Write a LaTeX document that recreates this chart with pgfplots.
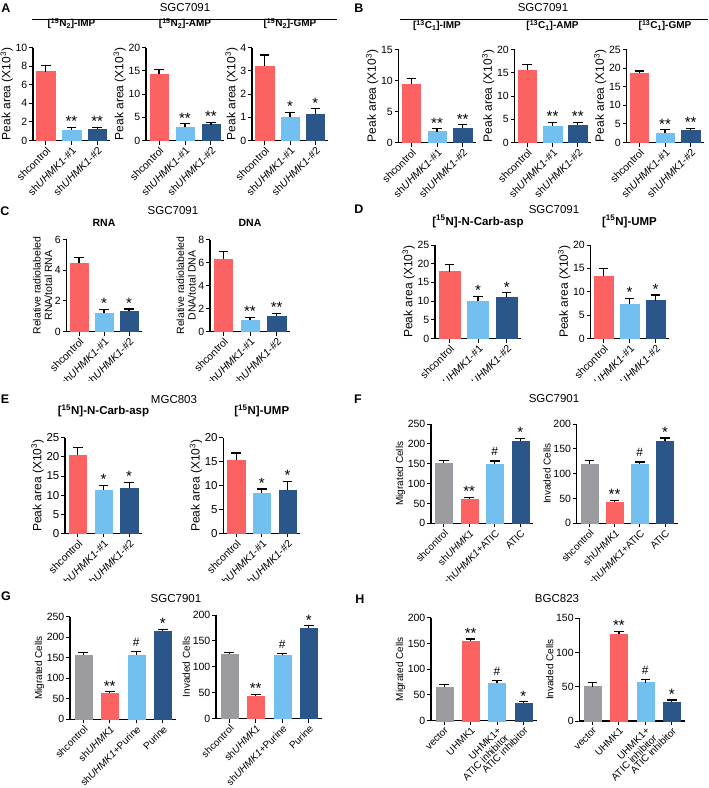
\documentclass[border=0pt]{standalone}
\usepackage{fontspec}
\setmainfont{Liberation Sans}
\usepackage{pgfplots}
\pgfplotsset{compat=1.18}
\definecolor{cred}{RGB}{252,98,98}
\definecolor{clb}{RGB}{115,192,240}
\definecolor{cdb}{RGB}{42,86,138}
\definecolor{cgr}{RGB}{155,155,160}
\pgfplotsset{
 prism/.style={scale only axis, axis lines=left, axis line style={-, line width=1.1pt},
   every tick/.style={black, line width=1pt}, major tick length=4pt, tick align=outside,
   ymin=0, clip=false, /pgf/number format/assume math mode=true,
   yticklabel style={font=\fontsize{10.5}{11}\selectfont, inner sep=1.5pt},
   xticklabel style={rotate=45, anchor=north east, inner sep=1pt, font=\fontsize{10.5}{11}\selectfont, align=right},
   ylabel style={font=\fontsize{12}{13}\selectfont, inner sep=1pt, align=center},
   title style={font=\bfseries\fontsize{10}{11}\selectfont},
   height=93pt},
 three/.style={prism, xmin=-0.5, xmax=2.5, xtick={0,1,2}, xticklabels={shcontrol, sh\textit{UHMK1}-\#1, sh\textit{UHMK1}-\#2}, bar width=18.5pt},
 four/.style={prism, xmin=-0.5, xmax=3.5, xtick={0,1,2,3}, bar width=17pt,
   ylabel style={font=\fontsize{10}{11}\selectfont},
   xticklabel style={font=\fontsize{10}{10.5}\selectfont}},
 b/.style={ybar, bar shift=0pt, draw=#1, fill=#1,
   /pgfplots/error bars/y dir=plus, /pgfplots/error bars/y explicit,
   /pgfplots/error bars/error bar style={line width=1.2pt, black},
   /pgfplots/error bars/error mark options={rotate=90, mark size=4.8pt, line width=1.2pt, black}},
 st/.style={draw=none, nodes near coords, point meta=explicit symbolic,
   nodes near coords style={font=\fontsize{15}{15}\selectfont, anchor=south, inner sep=0pt, yshift=0.5pt, black}},
 hs/.style={draw=none, nodes near coords, point meta=explicit symbolic,
   nodes near coords style={font=\fontsize{12}{12}\selectfont, anchor=south, inner sep=0pt, yshift=5pt, black}},
}
\begin{document}
\begin{tikzpicture}
\path[use as bounding box] (0pt,0pt) rectangle (709pt,-788pt);
% ---------- letters and headers
\tikzset{lett/.style={font=\bfseries\fontsize{12.5}{12.5}\selectfont}, hdr/.style={font=\fontsize{11.5}{12}\selectfont}}
\node[lett] at (6pt,-8pt) {A};
\node[lett] at (359pt,-8.5pt) {B};
\node[lett] at (5pt,-211pt) {C};
\node[lett] at (359pt,-209pt) {D};
\node[lett] at (5pt,-399pt) {E};
\node[lett] at (358pt,-399pt) {F};
\node[lett] at (6pt,-596pt) {G};
\node[lett] at (360pt,-599pt) {H};
\node[hdr] at (185pt,-8pt) {SGC7091};
\draw[line width=1pt] (32pt,-19pt) -- (337pt,-19pt);
\node[hdr] at (543pt,-8pt) {SGC7091};
\draw[line width=1pt] (400pt,-19pt) -- (708pt,-19pt);
\node[hdr] at (173pt,-211pt) {SGC7091};
\node[hdr] at (554pt,-210pt) {SGC7091};
\node[hdr] at (174pt,-400pt) {MGC803};
\node[hdr] at (554pt,-399pt) {SGC7901};
\node[hdr] at (176pt,-599pt) {SGC7901};
\node[hdr] at (557pt,-599pt) {BGC823};
% ---------- A
\begin{axis}[three, at={(33pt,-140.5pt)}, anchor=south west, width=77pt, ymax=10, ytick={0,2,4,6,8,10},
  title={[\textsuperscript{15}N\textsubscript{2}]-IMP}, title style={yshift=9pt}, ylabel={Peak area (X10\textsuperscript{3})}]
\addplot[b=cred] coordinates {(0,7.4) +- (0,0.7)};
\addplot[b=clb] coordinates {(1,1.15) +- (0,0.28)};
\addplot[b=cdb] coordinates {(2,1.22) +- (0,0.2)};
\addplot[st] coordinates {(1,1.43) [**] (2,1.43) [**]};
\end{axis}
\begin{axis}[three, at={(146pt,-140.5pt)}, anchor=south west, width=78pt, ymax=20, ytick={0,5,10,15,20},
  title={[\textsuperscript{15}N\textsubscript{2}]-AMP}, title style={yshift=9pt}, ylabel={Peak area (X10\textsuperscript{3})}]
\addplot[b=cred] coordinates {(0,14.3) +- (0,0.9)};
\addplot[b=clb] coordinates {(1,2.8) +- (0,0.8)};
\addplot[b=cdb] coordinates {(2,3.4) +- (0,0.5)};
\addplot[st] coordinates {(1,3.6) [**] (2,3.9) [**]};
\end{axis}
\begin{axis}[three, at={(252pt,-140.5pt)}, anchor=south west, width=76pt, ymax=4, ytick={0,1,2,3,4},
  title={[\textsuperscript{15}N\textsubscript{2}]-GMP}, title style={yshift=9pt}, ylabel={Peak area (X10\textsuperscript{3})}]
\addplot[b=cred] coordinates {(0,3.21) +- (0,0.47)};
\addplot[b=clb] coordinates {(1,1.0) +- (0,0.2)};
\addplot[b=cdb] coordinates {(2,1.12) +- (0,0.24)};
\addplot[st] coordinates {(1,1.2) [*] (2,1.36) [*]};
\end{axis}
% ---------- B
\begin{axis}[three, at={(398.5pt,-142.5pt)}, anchor=south west, width=77pt, ymax=15, ytick={0,5,10,15},
  title={[\textsuperscript{13}C\textsubscript{1}]-IMP}, title style={yshift=9pt}, ylabel={Peak area (X10\textsuperscript{3})}]
\addplot[b=cred] coordinates {(0,9.4) +- (0,0.9)};
\addplot[b=clb] coordinates {(1,1.77) +- (0,0.43)};
\addplot[b=cdb] coordinates {(2,2.3) +- (0,0.54)};
\addplot[st] coordinates {(1,2.2) [**] (2,2.84) [**]};
\end{axis}
\begin{axis}[three, at={(514.5pt,-142.5pt)}, anchor=south west, width=76pt, ymax=20, ytick={0,5,10,15,20},
  title={[\textsuperscript{13}C\textsubscript{1}]-AMP}, title style={yshift=9pt}, ylabel={Peak area (X10\textsuperscript{3})}]
\addplot[b=cred] coordinates {(0,15.6) +- (0,1.2)};
\addplot[b=clb] coordinates {(1,3.57) +- (0,0.8)};
\addplot[b=cdb] coordinates {(2,3.8) +- (0,0.5)};
\addplot[st] coordinates {(1,4.36) [**] (2,4.3) [**]};
\end{axis}
\begin{axis}[three, at={(626.5pt,-142.5pt)}, anchor=south west, width=77pt, ymax=25, ytick={0,5,10,15,20,25},
  title={[\textsuperscript{13}C\textsubscript{1}]-GMP}, title style={yshift=9pt}, ylabel={Peak area (X10\textsuperscript{3})}]
\addplot[b=cred] coordinates {(0,18.6) +- (0,0.6)};
\addplot[b=clb] coordinates {(1,2.5) +- (0,0.9)};
\addplot[b=cdb] coordinates {(2,3.4) +- (0,0.45)};
\addplot[st] coordinates {(1,3.4) [**] (2,3.85) [**]};
\end{axis}
% ---------- C and D (clipped)
\begin{scope}
\clip (0pt,-195pt) rectangle (709pt,-380pt);
\begin{axis}[three, at={(66.5pt,-331.5pt)}, anchor=south west, width=75pt, height=92pt, ymax=6, ytick={0,2,4,6},
  title={RNA}, title style={yshift=3pt, font=\bfseries\fontsize{10.5}{11}\selectfont}, ylabel={Relative radiolabeled\\RNA/total RNA},
  ylabel style={font=\fontsize{10.5}{11.5}\selectfont}]
\addplot[b=cred] coordinates {(0,4.44) +- (0,0.39)};
\addplot[b=clb] coordinates {(1,1.19) +- (0,0.26)};
\addplot[b=cdb] coordinates {(2,1.34) +- (0,0.13)};
\addplot[st] coordinates {(1,1.45) [*] (2,1.47) [*]};
\end{axis}
\begin{axis}[three, at={(210pt,-331.5pt)}, anchor=south west, width=80pt, height=92pt, ymax=8, ytick={0,2,4,6,8},
  title={DNA}, title style={yshift=3pt, font=\bfseries\fontsize{10.5}{11}\selectfont}, ylabel={Relative radiolabeled\\DNA/total DNA},
  ylabel style={font=\fontsize{10.5}{11.5}\selectfont}]
\addplot[b=cred] coordinates {(0,6.31) +- (0,0.67)};
\addplot[b=clb] coordinates {(1,1.02) +- (0,0.2)};
\addplot[b=cdb] coordinates {(2,1.31) +- (0,0.29)};
\addplot[st] coordinates {(1,1.22) [**] (2,1.6) [**]};
\end{axis}
\begin{axis}[three, at={(435pt,-338.5pt)}, anchor=south west, width=86pt, height=93.5pt, bar width=21pt, ymax=25, ytick={0,5,10,15,20,25},
  title={[\textsuperscript{15}N]-N-Carb-asp}, title style={yshift=8pt, font=\bfseries\fontsize{11.5}{12}\selectfont}, ylabel={Peak area (X10\textsuperscript{3})}]
\addplot[b=cred] coordinates {(0,17.9) +- (0,1.9)};
\addplot[b=clb] coordinates {(1,10.0) +- (0,1.2)};
\addplot[b=cdb] coordinates {(2,11.0) +- (0,1.2)};
\addplot[st] coordinates {(1,11.2) [*] (2,12.2) [*]};
\end{axis}
\begin{axis}[three, at={(590.5pt,-338.5pt)}, anchor=south west, width=78pt, height=93.5pt, ymax=20, ytick={0,5,10,15,20},
  title={[\textsuperscript{15}N]-UMP}, title style={yshift=8pt, font=\bfseries\fontsize{11.5}{12}\selectfont}, ylabel={Peak area (X10\textsuperscript{3})}]
\addplot[b=cred] coordinates {(0,13.3) +- (0,1.6)};
\addplot[b=clb] coordinates {(1,7.4) +- (0,1.2)};
\addplot[b=cdb] coordinates {(2,8.1) +- (0,1.2)};
\addplot[st] coordinates {(1,8.6) [*] (2,9.3) [*]};
\end{axis}
\end{scope}
% ---------- E and F (clipped)
\begin{scope}
\clip (0pt,-385pt) rectangle (709pt,-580pt);
\begin{axis}[three, at={(65pt,-533.3pt)}, anchor=south west, width=77pt, height=95.5pt, bar width=17.5pt, ymax=25, ytick={0,5,10,15,20,25},
  title={[\textsuperscript{15}N]-N-Carb-asp}, title style={yshift=11pt, font=\bfseries\fontsize{11.5}{12}\selectfont}, ylabel={Peak area (X10\textsuperscript{3})},
  yticklabel style={font=\fontsize{11.5}{12}\selectfont}]
\addplot[b=cred] coordinates {(0,20.4) +- (0,2.0)};
\addplot[b=clb] coordinates {(1,11.4) +- (0,1.1)};
\addplot[b=cdb] coordinates {(2,11.8) +- (0,1.5)};
\addplot[st] coordinates {(1,12.5) [*] (2,13.3) [*]};
\end{axis}
\begin{axis}[three, at={(223.3pt,-533.3pt)}, anchor=south west, width=77pt, height=95.5pt, bar width=17.5pt, ymax=20, ytick={0,5,10,15,20},
  title={[\textsuperscript{15}N]-UMP}, title style={yshift=11pt, font=\bfseries\fontsize{11.5}{12}\selectfont}, ylabel={Peak area (X10\textsuperscript{3})},
  yticklabel style={font=\fontsize{11.5}{12}\selectfont}]
\addplot[b=cred] coordinates {(0,15.4) +- (0,1.4)};
\addplot[b=clb] coordinates {(1,8.35) +- (0,0.95)};
\addplot[b=cdb] coordinates {(2,9.1) +- (0,1.8)};
\addplot[st] coordinates {(1,9.3) [*] (2,10.9) [*]};
\end{axis}
\begin{axis}[four, at={(431pt,-523.3pt)}, anchor=south west, width=102pt, height=99.3pt, ymax=250, ytick={0,50,100,150,200,250},
  xticklabels={shcontrol, sh\textit{UHMK1}, sh\textit{UHMK1}+ATIC, ATIC}, ylabel={Migrated Cells}]
\addplot[b=cgr] coordinates {(0,151) +- (0,7)};
\addplot[b=cred] coordinates {(1,60) +- (0,5)};
\addplot[b=clb] coordinates {(2,149) +- (0,8)};
\addplot[b=cdb] coordinates {(3,207) +- (0,7)};
\addplot[st] coordinates {(1,65) [**] (3,214) [*]};
\addplot[hs] coordinates {(2,157) [\#]};
\end{axis}
\begin{axis}[four, at={(576.7pt,-523.3pt)}, anchor=south west, width=101pt, height=99.3pt, ymax=200, ytick={0,50,100,150,200},
  xticklabels={shcontrol, sh\textit{UHMK1}, sh\textit{UHMK1}+ATIC, ATIC}, ylabel={Invaded Cells}]
\addplot[b=cgr] coordinates {(0,120) +- (0,6)};
\addplot[b=cred] coordinates {(1,42.6) +- (0,3.5)};
\addplot[b=clb] coordinates {(2,119) +- (0,4.6)};
\addplot[b=cdb] coordinates {(3,165.5) +- (0,6.5)};
\addplot[st] coordinates {(1,46) [**] (3,172) [*]};
\addplot[hs] coordinates {(2,123.6) [\#]};
\end{axis}
\end{scope}
% ---------- G
\begin{axis}[four, at={(70pt,-719.3pt)}, anchor=south west, width=106pt, height=102.6pt, ymax=250, ytick={0,50,100,150,200,250},
  xticklabels={shcontrol, sh\textit{UHMK1}, sh\textit{UHMK1}+Purine, Purine}, ylabel={Migrated Cells}]
\addplot[b=cgr] coordinates {(0,157) +- (0,5.5)};
\addplot[b=cred] coordinates {(1,63) +- (0,4)};
\addplot[b=clb] coordinates {(2,157) +- (0,8)};
\addplot[b=cdb] coordinates {(3,215) +- (0,4)};
\addplot[st] coordinates {(1,67) [**] (3,219) [*]};
\addplot[hs] coordinates {(2,165) [\#]};
\end{axis}
\begin{axis}[four, at={(216pt,-718.5pt)}, anchor=south west, width=106pt, height=103.5pt, ymax=200, ytick={0,50,100,150,200},
  xticklabels={shcontrol, sh\textit{UHMK1}, sh\textit{UHMK1}+Purine, Purine}, ylabel={Invaded Cells}]
\addplot[b=cgr] coordinates {(0,125) +- (0,3.3)};
\addplot[b=cred] coordinates {(1,43.6) +- (0,2.7)};
\addplot[b=clb] coordinates {(2,121.8) +- (0,3.9)};
\addplot[b=cdb] coordinates {(3,174) +- (0,5)};
\addplot[st] coordinates {(1,46.3) [**] (3,179) [*]};
\addplot[hs] coordinates {(2,125.7) [\#]};
\end{axis}
% ---------- H
\begin{axis}[four, at={(431pt,-720.7pt)}, anchor=south west, width=105.6pt, height=103pt, ymax=200, ytick={0,50,100,150,200},
  xticklabels={vector, UHMK1, {UHMK1+\\ATIC inhibitor}, ATIC inhibitor}, ylabel={Migrated Cells}]
\addplot[b=cgr] coordinates {(0,64.7) +- (0,5.8)};
\addplot[b=cred] coordinates {(1,154.7) +- (0,3.9)};
\addplot[b=clb] coordinates {(2,73.8) +- (0,3.9)};
\addplot[b=cdb] coordinates {(3,33.6) +- (0,3.3)};
\addplot[st] coordinates {(1,158.6) [**] (3,36.9) [*]};
\addplot[hs] coordinates {(2,77.7) [\#]};
\end{axis}
\begin{axis}[four, at={(579.3pt,-721pt)}, anchor=south west, width=105.6pt, height=102.7pt, ymax=150, ytick={0,50,100,150},
  xticklabels={vector, UHMK1, {UHMK1+\\ATIC inhibitor}, ATIC inhibitor}, ylabel={Invaded Cells}]
\addplot[b=cgr] coordinates {(0,50.2) +- (0,6.3)};
\addplot[b=cred] coordinates {(1,126.6) +- (0,3.9)};
\addplot[b=clb] coordinates {(2,56) +- (0,4.9)};
\addplot[b=cdb] coordinates {(3,27.3) +- (0,3.4)};
\addplot[st] coordinates {(1,130.5) [**] (3,30.7) [*]};
\addplot[hs] coordinates {(2,60.9) [\#]};
\end{axis}
\end{tikzpicture}
\end{document}
